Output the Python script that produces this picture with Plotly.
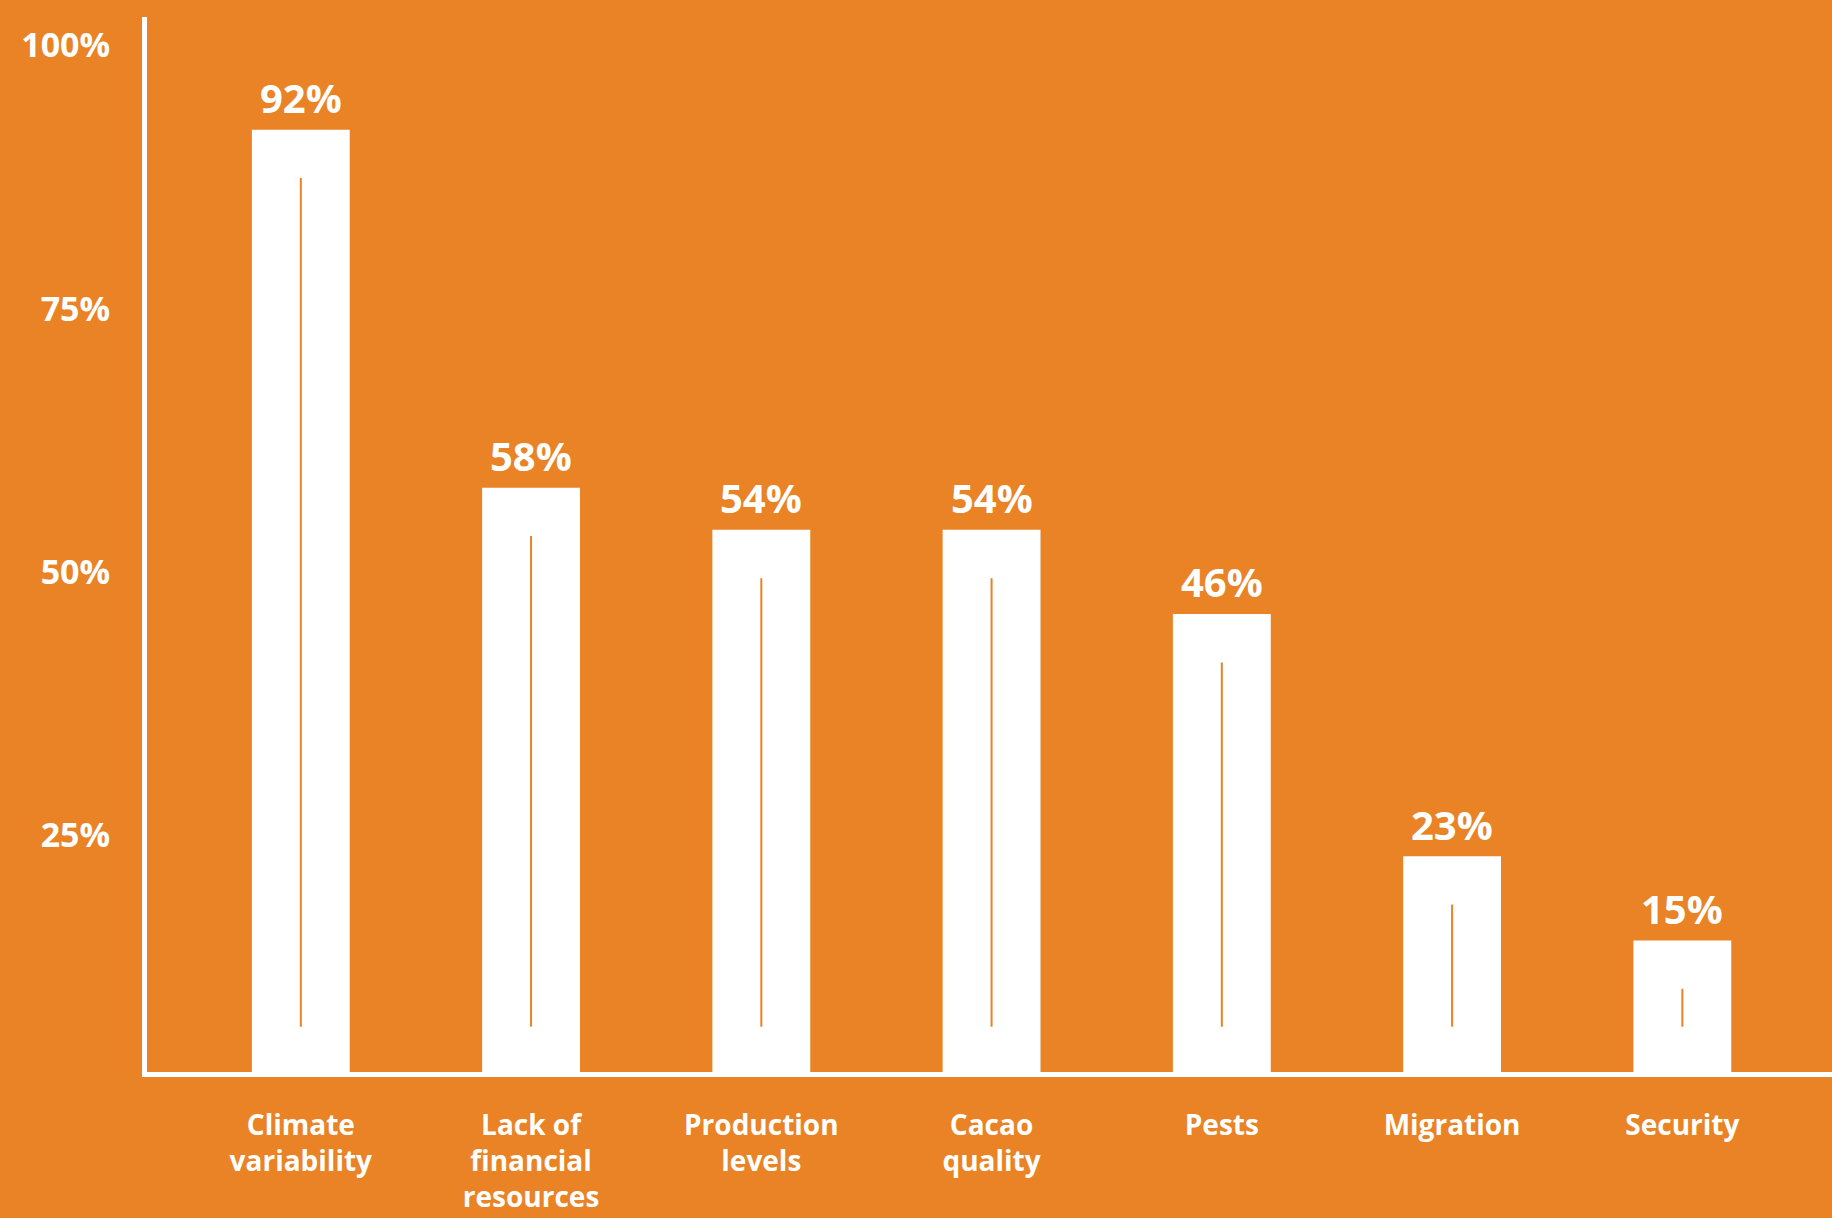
import plotly.graph_objects as go

categories = ["Climate<br>variability", "Lack of<br>financial<br>resources", "Production<br>levels",
              "Cacao<br>quality", "Pests", "Migration", "Security"]
values = [92, 58, 54, 54, 46, 23, 15]
labels = ["92%", "58%", "54%", "54%", "46%", "23%", "15%"]
tick_vals = [25, 50, 75, 100]
tick_text = ["25%", "50%", "75%", "100%"]

BG = "#E98325"
FONT = "Open Sans"

fig = go.Figure()
fig.add_trace(go.Bar(x=categories, y=values, marker=dict(color="white", line=dict(width=0)),
                     width=0.425, hoverinfo="skip"))

# thin inner orange lines
lx, ly = [], []
for c, v in zip(categories, values):
    lx += [c, c, None]
    ly += [6.8, v - 4.6, None]
fig.add_trace(go.Scatter(x=lx, y=ly, mode="lines", line=dict(color=BG, width=2),
                         hoverinfo="skip"))

for c, v, t in zip(categories, values, labels):
    fig.add_annotation(x=c, y=v, text=f"<b>{t}</b>", showarrow=False, yanchor="middle",
                       yshift=32, font=dict(family=FONT, size=40, color="white"))

fig.update_layout(
    width=1832, height=1218,
    paper_bgcolor=BG, plot_bgcolor=BG,
    margin=dict(l=147, r=0, t=17, b=146),
    showlegend=False,
    font=dict(family=FONT, color="white"),
    xaxis=dict(range=[-0.668, 6.65], showgrid=False, zeroline=False, automargin=False,
               showline=True, linecolor="white", linewidth=5,
               tickfont=dict(family=FONT, size=28, color="white", weight="bold"),
               ticks="", ticklabelstandoff=24),
    yaxis=dict(range=[2.5, 102.7], showgrid=False, zeroline=False, automargin=False,
               showline=True, linecolor="white", linewidth=5,
               tickvals=tick_vals, ticktext=tick_text, ticks="",
               tickfont=dict(family=FONT, size=34, color="white", weight="bold"),
               ticklabelstandoff=25),
)

fig.write_html("out.html")
